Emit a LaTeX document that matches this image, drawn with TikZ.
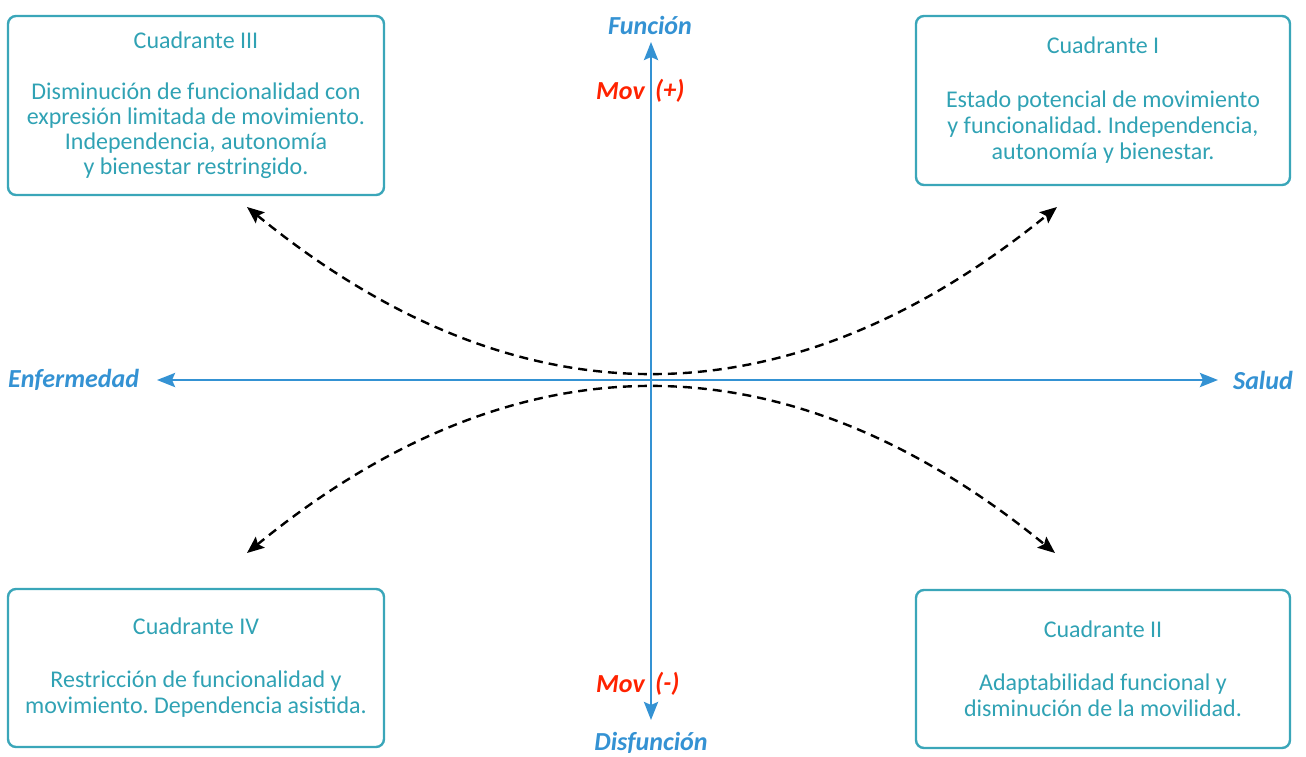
\documentclass[tikz,border=0pt]{standalone}
\usepackage{fontspec}
\setmainfont{Carlito}
\frenchspacing
\usetikzlibrary{arrows.meta}
\definecolor{boxteal}{RGB}{58,166,185}
\definecolor{txtteal}{RGB}{48,162,180}
\definecolor{axisblue}{RGB}{52,146,211}
\definecolor{movred}{RGB}{255,34,0}
\tikzset{
  quadbox/.style={draw=boxteal, line width=2.4pt, rounded corners=8pt, inner sep=0pt,
    text=txtteal, align=center, font=\fontsize{24}{25}\selectfont},
  axislbl/.style={text=axisblue, inner sep=0pt, font=\fontsize{26}{28}\selectfont\bfseries\itshape},
  movlbl/.style={text=movred, inner sep=0pt, font=\fontsize{26}{28}\selectfont\bfseries\itshape},
  axisline/.style={draw=axisblue, line width=2.8pt, -{Stealth[length=18pt,width=14pt,inset=3pt]}},
  flowcurve/.style={draw=black, line width=2.4pt, dash pattern=on 9pt off 6pt,
    {Stealth[length=17pt,width=14pt,inset=3pt]}-{Stealth[length=17pt,width=14pt,inset=3pt]}}
}
\begin{document}
\begin{tikzpicture}[x=1pt,y=-1pt]
\path[use as bounding box] (0,0) rectangle (1306,756);

% quadrant boxes
\node[quadbox, minimum width=376pt, minimum height=179pt] (q3) at (196,105.5)
  {Cuadrante III\\[26pt]Disminución de funcionalidad con\\expresión limitada de movimiento.\\Independencia, autonomía\\y bienestar restringido.};
\node[quadbox, minimum width=374pt, minimum height=169pt, font=\fontsize{24}{26}\selectfont] (q1) at (1103,100.5)
  {Cuadrante I\\[28pt]Estado potencial de movimiento\\y funcionalidad. Independencia,\\autonomía y bienestar.};
\node[quadbox, minimum width=376pt, minimum height=158pt, font=\fontsize{24}{26}\selectfont] (q4) at (196,668)
  {Cuadrante IV\\[27pt]Restricción de funcionalidad y\\movimiento. Dependencia asistida.};
\node[quadbox, minimum width=374pt, minimum height=158pt, font=\fontsize{24}{26}\selectfont] (q2) at (1103,669)
  {Cuadrante II\\[27pt]Adaptabilidad funcional y\\disminución de la movilidad.};

% axis labels
\node[axislbl] (fun) at (650,25) {Función};
\node[axislbl] (dis) at (651,743) {Disfunción};
\node[axislbl, anchor=west] (enf) at (8,380) {Enfermedad};
\node[axislbl, anchor=east] (sal) at (1293,380) {Salud};
\node[movlbl, anchor=east] (movp) at (645,91) {Mov};
\node[movlbl, anchor=west] (plus) at (655,91) {(+)};
\node[movlbl, anchor=east] (movm) at (645,684) {Mov};
\node[movlbl, anchor=west] (minus) at (655,684) {(-)};

% axes
\coordinate (o) at (651,380);
\coordinate (top) at (651,42);
\coordinate (bot) at (651,720);
\coordinate (lft) at (157,380);
\coordinate (rgt) at (1218,380);
\draw[axisline] (o) -- (top);
\draw[axisline] (o) -- (bot);
\draw[axisline] (o) -- (lft);
\draw[axisline] (o) -- (rgt);

% dashed curves
\coordinate (c3) at (247,207);
\coordinate (c1) at (1057,207);
\coordinate (c4) at (247,553);
\coordinate (c2) at (1055,553);
\draw[flowcurve] (c3) .. controls (516.3,427) and (785.7,427) .. (c1);
\draw[flowcurve] (c4) .. controls (516.3,333) and (785.7,333) .. (c2);
\end{tikzpicture}
\end{document}
